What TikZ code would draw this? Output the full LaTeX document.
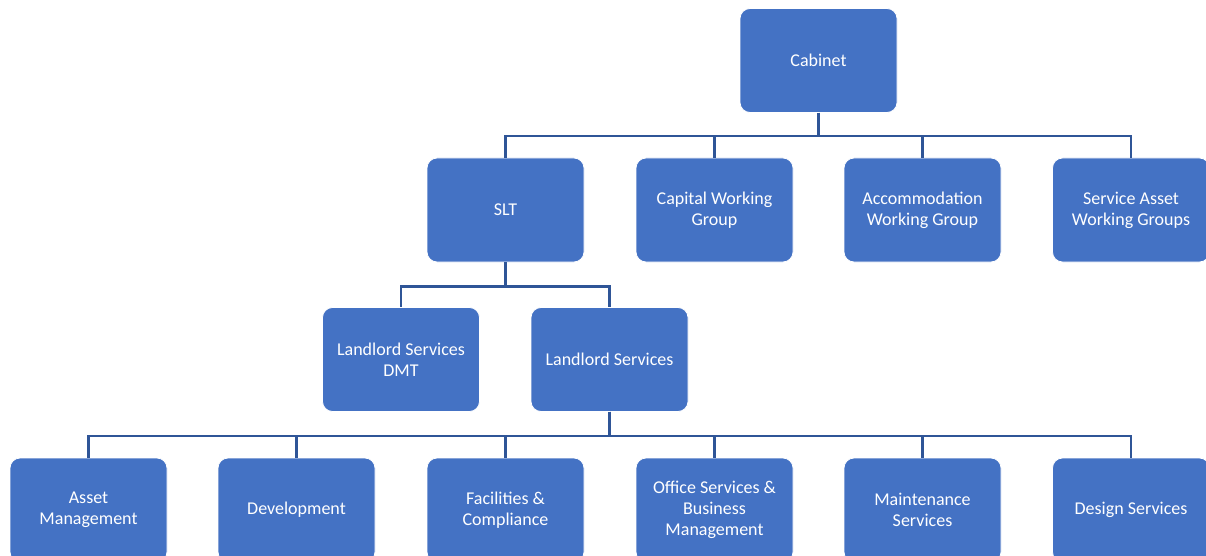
\documentclass[tikz,border=0pt]{standalone}
\usepackage{fontspec}
\setmainfont{Carlito}
\definecolor{boxblue}{HTML}{4472C4}
\definecolor{linkblue}{HTML}{2F5597}
\tikzset{
    unit/.style={draw=white, line width=0.8pt, fill=boxblue, rounded corners=10pt,
        minimum width=157pt, minimum height=104pt, inner sep=0pt,
        text=white, align=center, font=\fontsize{18}{21}\selectfont},
    link/.style={draw=linkblue, line width=2.4pt}
}
\begin{document}
\begin{tikzpicture}[x=1pt, y=-1pt]
            \useasboundingbox (0,0) rectangle (1206,556);
            \clip (0,0) rectangle (1206,556);
            % top
            \node[unit] (cabinet) at (818.5,60.5) {Cabinet};
            % second row
            \foreach \name/\x/\txt in {slt/505.5/SLT, capital/714.5/{Capital Working\\Group},
                accom/922.5/{Accommodation\\Working Group}, service/1131/{Service Asset\\Working Groups}}
            {
                \node[unit] (\name) at (\x,210) {\txt};
                \draw[link] (cabinet.south) -- ++(0,23) -| (\name.north);
            }
            % third row
            \foreach \name/\x/\txt in {dmt/401/{Landlord Services\\DMT}, landlord/609.5/{Landlord Services}}
            {
                \node[unit] (\name) at (\x,359.5) {\txt};
                \draw[link] (slt.south) -- ++(0,24) -| (\name.north);
            }
            % bottom row
            \foreach \name/\x/\txt in {asset/88.5/{Asset\\Management}, devel/296.5/Development,
                facil/505.5/{Facilities \&\\Compliance}, office/714.5/{Office Services \&\\Business\\Management},
                maint/922.5/{Maintenance\\Services}, design/1131/{Design Services}}
            {
                \node[unit] (\name) at (\x,510) {\txt};
                \draw[link] (landlord.south) -- ++(0,24) -| (\name.north);
            }
        \end{tikzpicture}
\end{document}
